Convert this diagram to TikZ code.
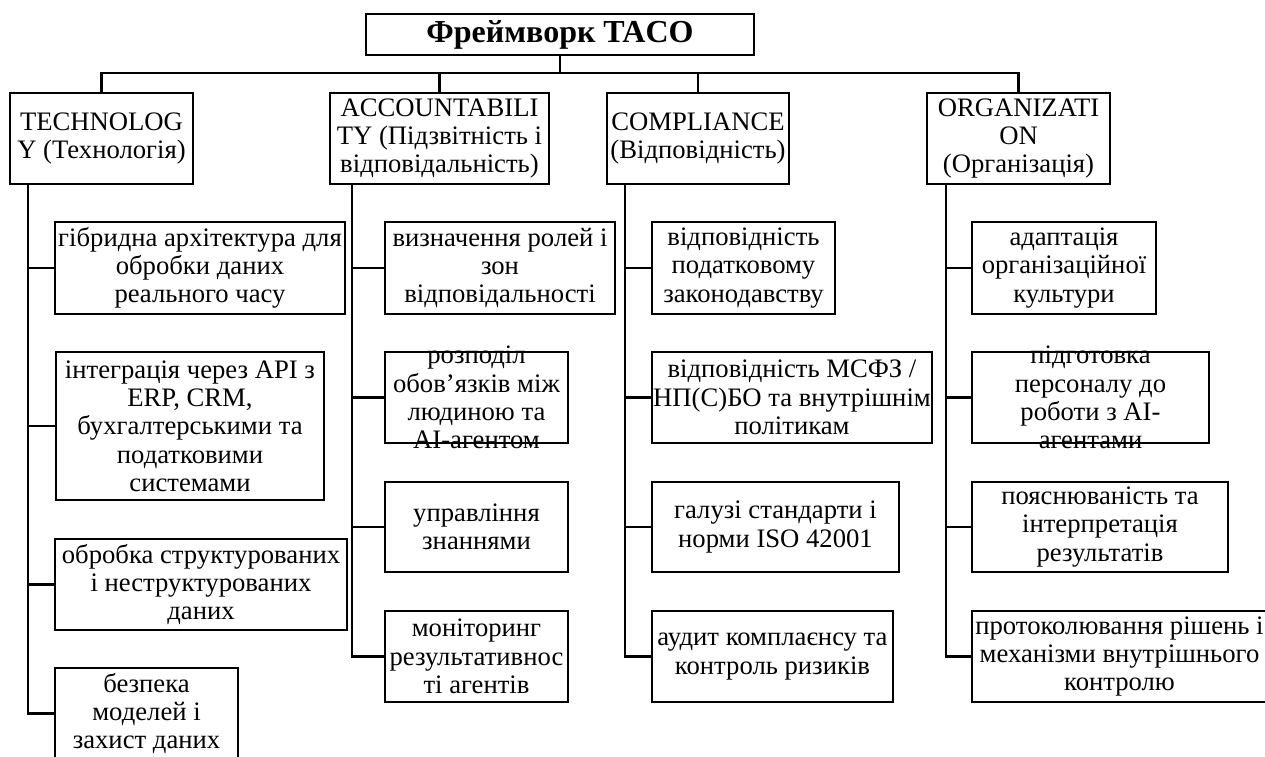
\documentclass[tikz,border=0pt]{standalone}
\usepackage{fontspec}
\setmainfont{Liberation Serif}
\tikzset{
  box/.style={draw, line width=2.9pt, fill=white, inner sep=0pt},
  lbl/.style={align=center, inner sep=0pt, font=\fontsize{26.67}{28.3}\selectfont},
  ttl/.style={align=center, inner sep=0pt, font=\fontsize{32}{34}\selectfont\bfseries},
  link/.style={line width=2.9pt}
}
% a framed box between two corners (x1,y1) and (x2,y2), text centred in it
\newcommand\framedbox[6]{%
  \node[box, minimum width={#4pt-#2pt}, minimum height={#5pt-#3pt}]
    (#1) at ({(#2+#4)/2},{(#3+#5)/2}) {};
  \node[lbl] (#1-t) at (#1.center) {#6};
}
\begin{document}
\begin{tikzpicture}[x=1pt, y=-1pt]
\path[use as bounding box] (0,0) rectangle (1265,756);
\clip (0,0) rectangle (1265,756);

% title
\node[box, minimum width=388pt, minimum height=41pt] (title) at (560,34.5) {};
\node[ttl] (title-t) at (title.center) {Фреймворк TACO};

% the four pillars
\framedbox{tech}{10}{93}{193}{184}{TECHNOLOG\\Y (Технологія)}
\framedbox{acc}{330}{93}{549}{184}{ACCOUNTABILI\\TY (Підзвітність і\\відповідальність)}
\framedbox{comp}{607}{93}{789}{184}{COMPLIANCE\\(Відповідність)}
\framedbox{org}{927}{93}{1110}{184}{ORGANIZATI\\ON\\(Організація)}

% technology
\framedbox{t1}{55}{222}{345}{314}{гібридна архітектура для\\обробки даних\\реального часу}
\framedbox{t2}{56}{352}{324}{500}{інтеграція через API з\\ERP, CRM,\\бухгалтерськими та\\податковими\\системами}
\framedbox{t3}{55}{539}{347}{630}{обробка структурованих\\і неструктурованих\\даних}
\framedbox{t4}{55}{668}{238}{759}{безпека\\моделей і\\захист даних}

% accountability
\framedbox{a1}{385}{222}{615}{314}{визначення ролей і\\зон\\відповідальності}
\framedbox{a2}{385}{352}{568}{443}{розподіл\\обов’язків між\\людиною та\\AI-агентом}
\framedbox{a3}{385}{482}{568}{572}{управління\\знаннями}
\framedbox{a4}{385}{611}{568}{702}{моніторинг\\результативнос\\ті агентів}

% compliance
\framedbox{c1}{652}{222}{835}{314}{відповідність\\податковому\\законодавству}
\framedbox{c2}{652}{352}{932}{443}{відповідність МСФЗ /\\НП(С)БО та внутрішнім\\політикам}
\framedbox{c3}{652}{482}{899}{572}{галузі стандарти і\\норми ISO 42001}
\framedbox{c4}{652}{611}{893}{702}{аудит комплаєнсу та\\контроль ризиків}

% organization
\framedbox{o1}{972}{222}{1156}{314}{адаптація\\організаційної\\культури}
\framedbox{o2}{972}{352}{1209}{443}{підготовка\\персоналу до\\роботи з AI-\\агентами}
\framedbox{o3}{972}{482}{1228}{572}{пояснюваність та\\інтерпретація\\результатів}
\framedbox{o4}{972}{611}{1267}{702}{протоколювання рішень і\\механізми внутрішнього\\контролю}

% bus from the title to the pillars
\coordinate (bus) at (0,73);
\draw[link] (title.south) -- (title.south |- bus);
\draw[link] (tech.north) -- (tech.north |- bus) -- (org.north |- bus) -- (org.north);
\draw[link] (acc.north) -- (acc.north |- bus);
\draw[link] (comp.north) -- (comp.north |- bus);

% trunks under each pillar
\coordinate (techT) at (28,184);
\coordinate (accT) at (352,184);
\coordinate (compT) at (625,184);
\coordinate (orgT) at (946,184);

\draw[link] (techT) |- (t4.west);
\foreach \n in {t1,t2,t3} \draw[link] (techT |- \n.west) -- (\n.west);
\draw[link] (accT) |- (a4.west);
\foreach \n in {a1,a2,a3} \draw[link] (accT |- \n.west) -- (\n.west);
\draw[link] (compT) |- (c4.west);
\foreach \n in {c1,c2,c3} \draw[link] (compT |- \n.west) -- (\n.west);
\draw[link] (orgT) |- (o4.west);
\foreach \n in {o1,o2,o3} \draw[link] (orgT |- \n.west) -- (\n.west);
\end{tikzpicture}
\end{document}
